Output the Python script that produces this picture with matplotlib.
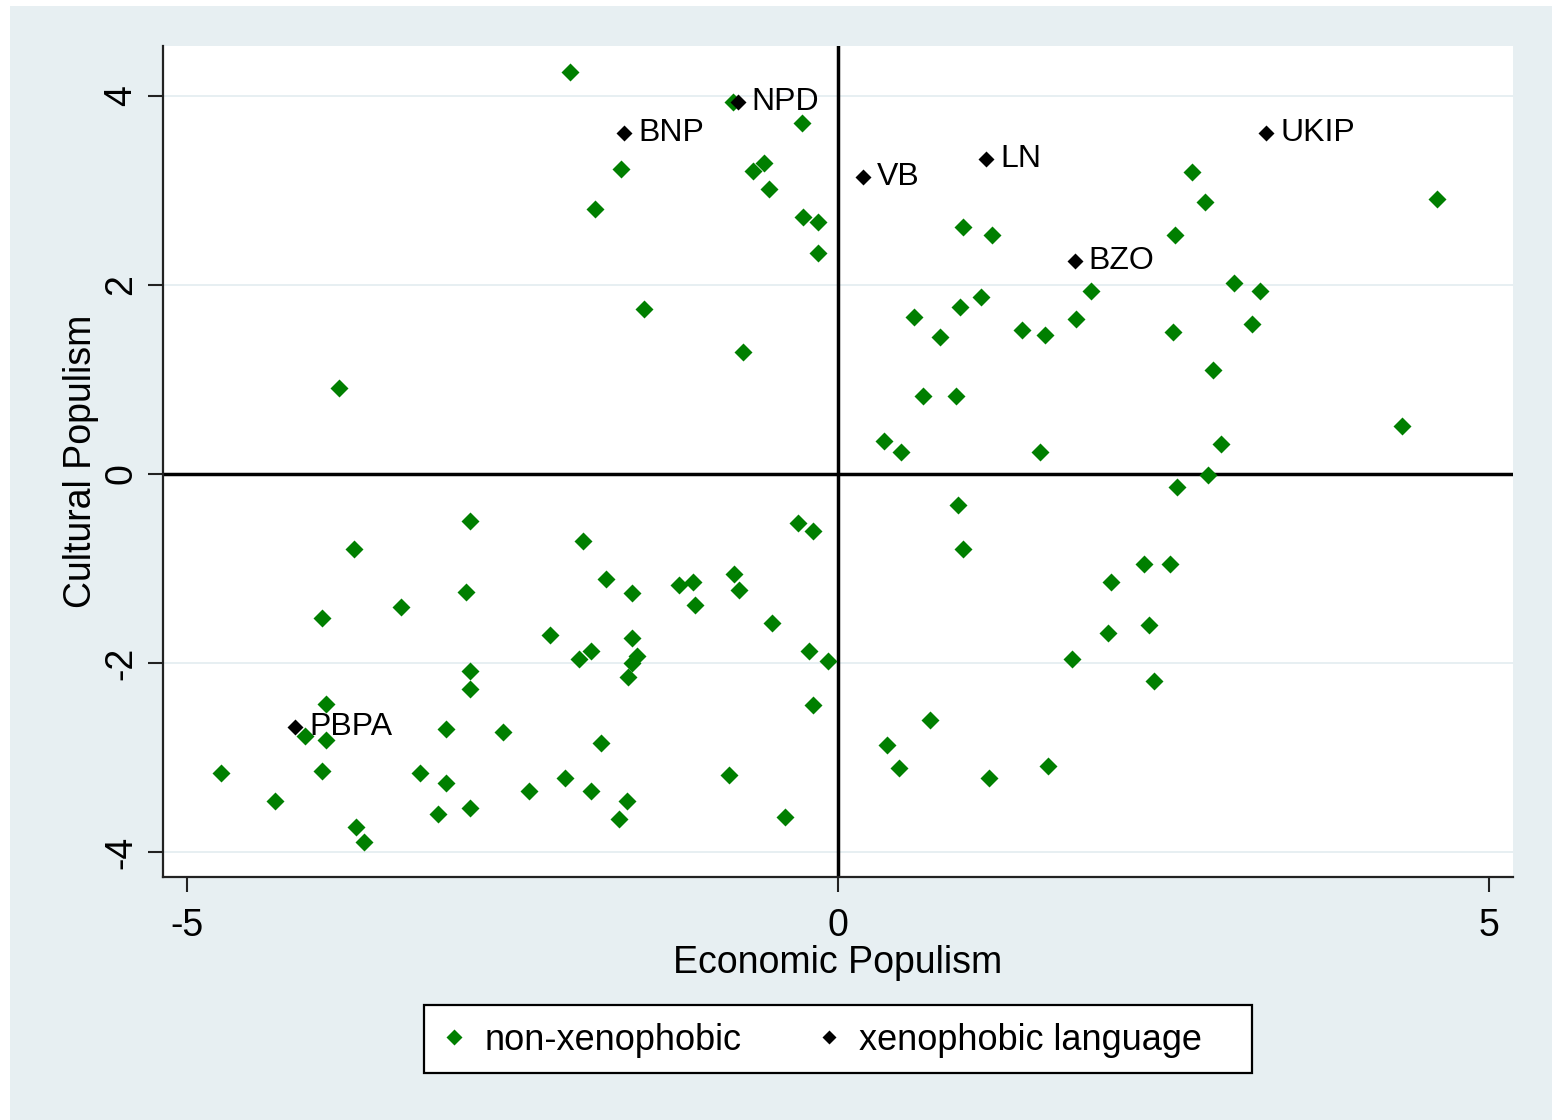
import matplotlib
matplotlib.use("Agg")
import matplotlib.pyplot as plt
from matplotlib.patches import Rectangle

plt.rcParams["font.family"] = ["Liberation Sans", "DejaVu Sans"]

# Parties without xenophobic language: (economic, cultural) populism scores
nonxeno_econ = [
    -2.06, -0.81, -0.28, -1.67, -0.65, -0.57, -0.53, -1.87, -0.27, -0.15,
    -0.15, -1.49, -0.73, -3.83,
    2.72, 2.82, 4.60, 0.96, 1.18, 2.59, 3.04, 3.24, 1.94, 1.10,
    0.94, 0.58, 1.83, 3.18, 1.41, 1.59, 0.78, 2.57, 2.88, 0.65,
    0.91, 4.33, 0.35, 0.48, 1.55, 2.94, 2.84,
    2.60, 0.92, 0.96, 2.35, 2.55, 2.10, 2.39, 2.07, 1.80, 2.43,
    0.71, 0.38, 0.47, 1.16, 1.61,
    -0.31, -0.19, -1.96, -1.78, -1.58, -1.22, -1.11, -1.10, -0.80, -0.76,
    -0.51, -2.21, -1.99, -1.90, -1.58, -1.54, -1.58, -1.61, -0.22, -0.08,
    -0.19, -2.57, -1.82, -0.84, -2.10, -2.37, -1.90, -1.62, -1.68, -0.41,
    -2.83, -3.72, -2.86, -3.36, -3.96, -2.83, -2.83, -3.93, -4.09, -3.93,
    -3.01, -4.74, -3.96, -3.21, -3.01, -4.32, -3.07, -2.83, -3.70, -3.64,
]
nonxeno_cult = [
    4.25, 3.94, 3.71, 3.23, 3.21, 3.29, 3.02, 2.80, 2.72, 2.67,
    2.34, 1.75, 1.29, 0.91,
    3.20, 2.88, 2.91, 2.61, 2.53, 2.53, 2.02, 1.94, 1.94, 1.87,
    1.77, 1.66, 1.64, 1.59, 1.52, 1.47, 1.45, 1.50, 1.10, 0.83,
    0.83, 0.51, 0.35, 0.23, 0.23, 0.32, -0.01,
    -0.14, -0.33, -0.79, -0.95, -0.95, -1.14, -1.60, -1.68, -1.96, -2.19,
    -2.60, -2.87, -3.11, -3.22, -3.09,
    -0.52, -0.60, -0.71, -1.11, -1.26, -1.17, -1.14, -1.39, -1.06, -1.23,
    -1.58, -1.70, -1.96, -1.87, -1.74, -1.93, -2.00, -2.15, -1.87, -1.98,
    -2.44, -2.73, -2.85, -3.19, -3.22, -3.35, -3.35, -3.46, -3.65, -3.63,
    -0.50, -0.79, -1.25, -1.41, -1.52, -2.08, -2.28, -2.43, -2.77, -2.81,
    -2.70, -3.16, -3.14, -3.16, -3.27, -3.46, -3.60, -3.54, -3.74, -3.89,
]

# Parties using xenophobic language
xeno_names = ["NPD", "BNP", "VB", "LN", "UKIP", "BZO", "PBPA"]
xeno_econ = [-0.77, -1.64, 0.19, 1.14, 3.29, 1.82, -4.17]
xeno_cult = [3.94, 3.61, 3.14, 3.33, 3.61, 2.25, -2.68]

x_ticks = [-5, 0, 5]
y_ticks = [-4, -2, 0, 2, 4]

W, H = 1552, 1120
fig = plt.figure(figsize=(W / 100, H / 100), dpi=100, facecolor="white")
fig.patches.append(Rectangle((10 / W, 0), 1 - 10 / W, 1 - 6 / H,
                             transform=fig.transFigure, facecolor="#e7eff2",
                             edgecolor="none", zorder=-10))

ax = fig.add_axes([163 / W, 1 - 877 / H, (1513 - 163) / W, (877 - 46) / H])
ax.set_facecolor("white")
ax.set_xlim(-5.184, 5.184)
ax.set_ylim(-4.265, 4.529)

for yv in y_ticks:
    ax.axhline(yv, color="#e5eef1", lw=1.3, zorder=0)
ax.axhline(0, color="black", lw=2.5, zorder=1)
ax.axvline(0, color="black", lw=2.5, zorder=1)

green = "#007f00"
ax.plot(nonxeno_econ, nonxeno_cult, linestyle="none", marker="D", ms=9.5,
        color=green, mec="none", label="non-xenophobic", zorder=3)
ax.plot(xeno_econ, xeno_cult, linestyle="none", marker="D", ms=8,
        color="black", mec="none", label="xenophobic language", zorder=4)
for name, xv, yv in zip(xeno_names, xeno_econ, xeno_cult):
    ax.annotate(name, (xv, yv), xytext=(10, 0), textcoords="offset points",
                va="center", ha="left", fontsize=23, color="black", zorder=5)

for side in ["top", "right"]:
    ax.spines[side].set_visible(False)
for side in ["left", "bottom"]:
    ax.spines[side].set_color("#222222")
    ax.spines[side].set_linewidth(1.6)

ax.set_xticks(x_ticks)
ax.set_xticklabels([str(v) for v in x_ticks])
ax.set_yticks(y_ticks)
ax.set_yticklabels([str(v) for v in y_ticks], rotation=90, va="center")
ax.tick_params(axis="both", direction="out", length=11, width=1.5,
               color="#222222", labelsize=27)
ax.tick_params(axis="x", pad=11)
ax.tick_params(axis="y", pad=6)

ax.set_xlabel("Economic Populism", fontsize=27, labelpad=1)
ax.set_ylabel("Cultural Populism", fontsize=27, labelpad=3)

# Legend: frame drawn as a separate box, entries placed inside it
fig.patches.append(Rectangle((424 / W, 1 - 1073 / H), (1252 - 424) / W,
                             (1073 - 1005) / H, transform=fig.transFigure,
                             facecolor="white", edgecolor="black", lw=1.6,
                             zorder=1))
leg = fig.legend(loc="center", bbox_to_anchor=(821 / W, 1 - 1040 / H), ncol=2,
                 fontsize=26, frameon=False,
                 handlelength=0.8, handletextpad=0.45, columnspacing=2.0,
                 borderpad=0.2, markerscale=0.9)
leg.set_zorder(2)

fig.savefig("out.png", dpi=100, facecolor=fig.get_facecolor())
